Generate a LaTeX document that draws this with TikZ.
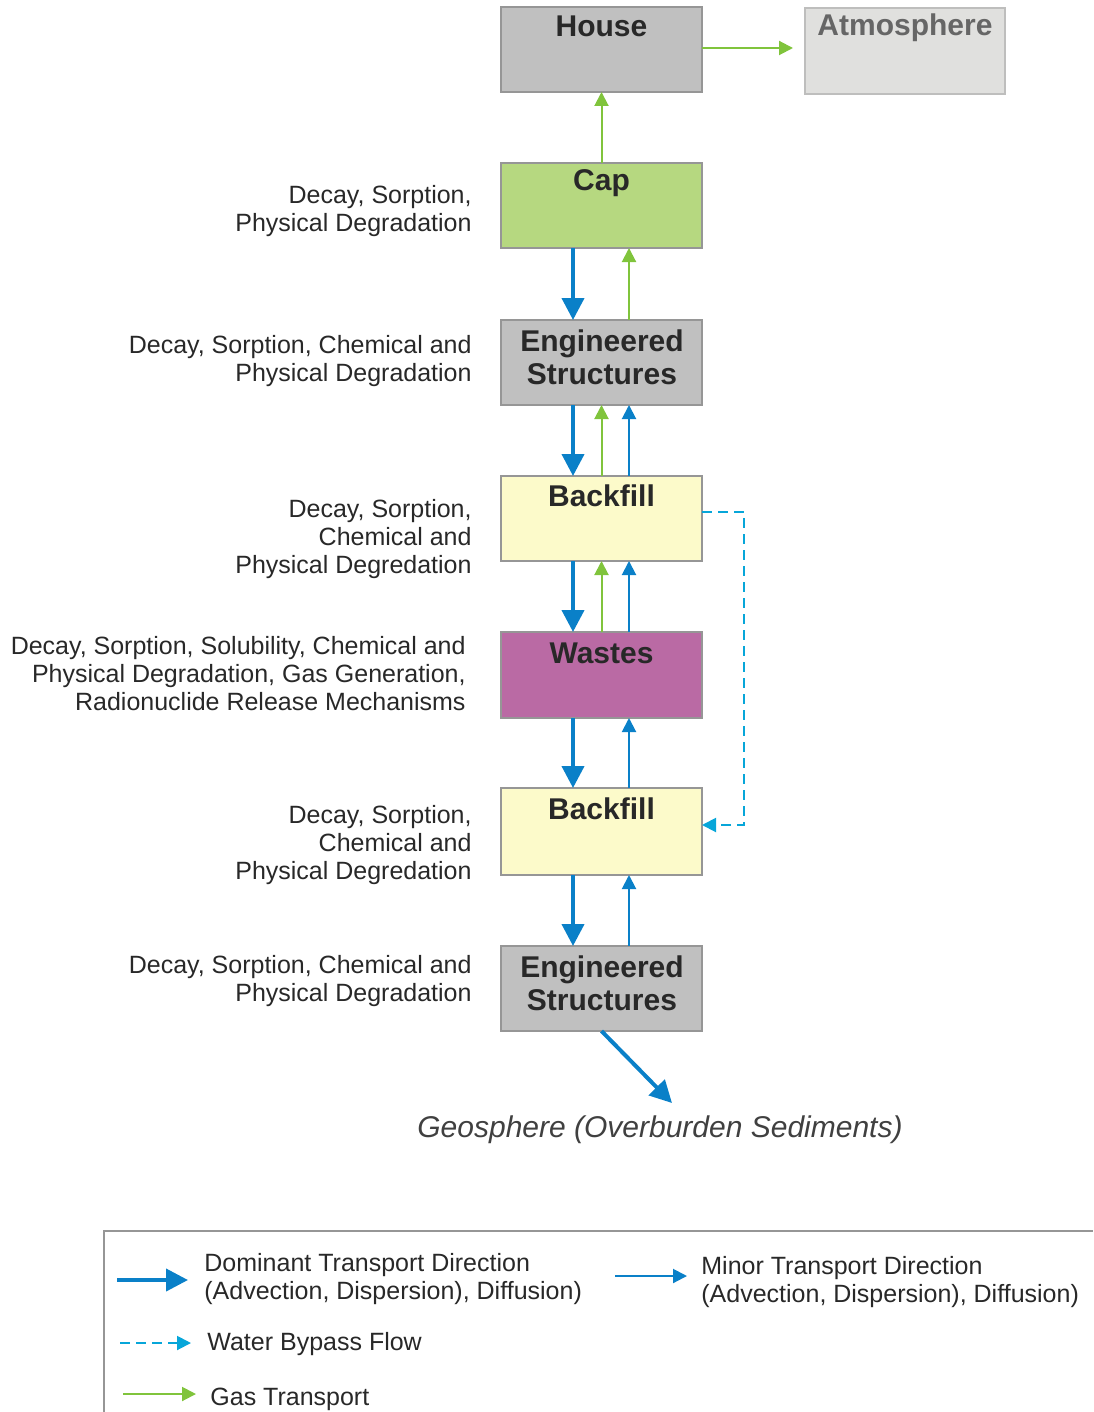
\documentclass[tikz,border=0pt]{standalone}
\usepackage{fontspec}
\setmainfont{Liberation Sans}
\usetikzlibrary{arrows.meta}
\definecolor{tblue}{RGB}{10,128,200}
\definecolor{tgreen}{RGB}{128,196,60}
\definecolor{boxline}{RGB}{150,150,150}
\definecolor{housegray}{RGB}{192,192,192}
\definecolor{atmgray}{RGB}{224,224,222}
\definecolor{capgreen}{RGB}{182,216,128}
\definecolor{bfyellow}{RGB}{252,250,202}
\definecolor{wastepurple}{RGB}{186,106,164}
\definecolor{txt}{RGB}{40,40,40}
\begin{document}
\begin{tikzpicture}[x=0.5pt,y=-0.5pt,
  box/.style={draw=boxline,line width=0.6pt,minimum width=100.5pt,minimum height=42.5pt,inner sep=0pt,outer sep=0pt},
  title/.style={font=\fontsize{15}{16.5}\selectfont\bfseries,text=txt,inner sep=0pt,align=center},
  lbl/.style={font=\fontsize{12.5}{14}\selectfont,text=txt,inner sep=0pt,align=right,anchor=east},
  leg/.style={font=\fontsize{12.5}{14}\selectfont,text=txt,inner sep=0pt,align=left,anchor=west},
  dom/.style={draw=tblue,line width=2pt,-{Triangle[width=11pt,length=11pt]}},
  minor/.style={draw=tblue,line width=1pt,-{Triangle[width=7pt,length=7pt]}},
  gas/.style={draw=tgreen,line width=1pt,-{Triangle[width=7pt,length=7pt]}},
  bypass/.style={draw=tblue!70!cyan,line width=1pt,dash pattern=on 5pt off 3pt,-{Triangle[width=7pt,length=7pt]}}
]
\useasboundingbox (0,0) rectangle (1093,1412);

% boxes
\node[box,fill=housegray] (house) at (601.5,49.5) {};
\node[title] (houset) at (601.5,26) {House};
\node[box,draw=atmgray!85!black,fill=atmgray,minimum width=100pt,minimum height=43pt] (atm) at (905,51) {};
\node[title,text=black!60] (atmt) at (905,28) {Atmosphere};
\node[box,fill=capgreen] (cap) at (601.5,205.5) {};
\node[title] (capt) at (601.5,183) {Cap};
\node[box,fill=housegray] (es1) at (601.5,362.5) {};
\node[title] (es1t) at (602,357) {Engineered\\Structures};
\node[box,fill=bfyellow] (bf1) at (601.5,518.5) {};
\node[title] (bf1t) at (601.5,496) {Backfill};
\node[box,fill=wastepurple,minimum height=43pt] (wst) at (601.5,675) {};
\node[title] (wstt) at (601.5,653) {Wastes};
\node[box,fill=bfyellow,minimum height=43.5pt] (bf2) at (601.5,831.5) {};
\node[title] (bf2t) at (601.5,809) {Backfill};
\node[box,fill=housegray] (es2) at (601.5,988.5) {};
\node[title] (es2t) at (602,983) {Engineered\\Structures};

% left labels
\node[lbl] (l1) at (472,211) {Decay, Sorption,\\Physical Degradation};
\node[lbl] (l2) at (472,361) {Decay, Sorption, Chemical and\\Physical Degradation};
\node[lbl] (l3) at (472,539) {Decay, Sorption,\\Chemical and\\Physical Degredation};
\node[lbl] (l4) at (466,674) {Decay, Sorption, Solubility, Chemical and\\Physical Degradation, Gas Generation,\\Radionuclide Release Mechanisms};
\node[lbl] (l5) at (472,845) {Decay, Sorption,\\Chemical and\\Physical Degredation};
\node[lbl] (l6) at (472,981) {Decay, Sorption, Chemical and\\Physical Degradation};

% arrows
\draw[gas] ([yshift=0.75pt]house.east) -- ([yshift=0.75pt,xshift=-6pt]house.east -| atm.west);
\draw[gas] (cap.north) -- (house.south);
\draw[dom] ([xshift=-14.25pt]cap.south) -- ([xshift=-14.25pt]es1.north);
\draw[gas] ([xshift=13.75pt]es1.north) -- ([xshift=13.75pt]cap.south);
\draw[dom] ([xshift=-14.25pt]es1.south) -- ([xshift=-14.25pt]bf1.north);
\draw[gas] (bf1.north) -- (es1.south);
\draw[minor] ([xshift=13.75pt]bf1.north) -- ([xshift=13.75pt]es1.south);
\draw[dom] ([xshift=-14.25pt]bf1.south) -- ([xshift=-14.25pt]wst.north);
\draw[gas] (wst.north) -- (bf1.south);
\draw[minor] ([xshift=13.75pt]wst.north) -- ([xshift=13.75pt]bf1.south);
\draw[dom] ([xshift=-14.25pt]wst.south) -- ([xshift=-14.25pt]bf2.north);
\draw[minor] ([xshift=13.75pt]bf2.north) -- ([xshift=13.75pt]wst.south);
\draw[dom] ([xshift=-14.25pt]bf2.south) -- ([xshift=-14.25pt]es2.north);
\draw[minor] ([xshift=13.75pt]es2.north) -- ([xshift=13.75pt]bf2.south);
\draw[bypass] ([yshift=3.25pt]bf1.east) -- ++(42,0) |- ([yshift=3.25pt]bf2.east);

\coordinate (geoend) at (672,1103);
\draw[dom] (es2.south) -- (geoend);
\node[font=\fontsize{15}{17}\selectfont\itshape,text=black!75,inner sep=0pt] (geo) at (660,1130) {Geosphere (Overburden Sediments)};

% legend
\draw[draw=boxline,line width=0.6pt] (104,1412) -- (104,1231) -- (1093,1231);
\coordinate (d1) at (117,1280); \coordinate (d2) at (188,1280);
\draw[dom] (d1) -- (d2);
\node[leg] (dt) at (204,1279) {Dominant Transport Direction\\(Advection, Dispersion), Diffusion)};
\coordinate (m1) at (615,1276); \coordinate (m2) at (687,1276);
\draw[minor] (m1) -- (m2);
\node[leg] (mt) at (701,1282) {Minor Transport Direction\\(Advection, Dispersion), Diffusion)};
\coordinate (w1) at (120,1343); \coordinate (w2) at (191,1343);
\draw[bypass] (w1) -- (w2);
\node[leg] (wt) at (207,1344) {Water Bypass Flow};
\coordinate (g1) at (123,1394); \coordinate (g2) at (196,1394);
\draw[gas] (g1) -- (g2);
\node[leg] (gt) at (210,1399) {Gas Transport};
\end{tikzpicture}
\end{document}
